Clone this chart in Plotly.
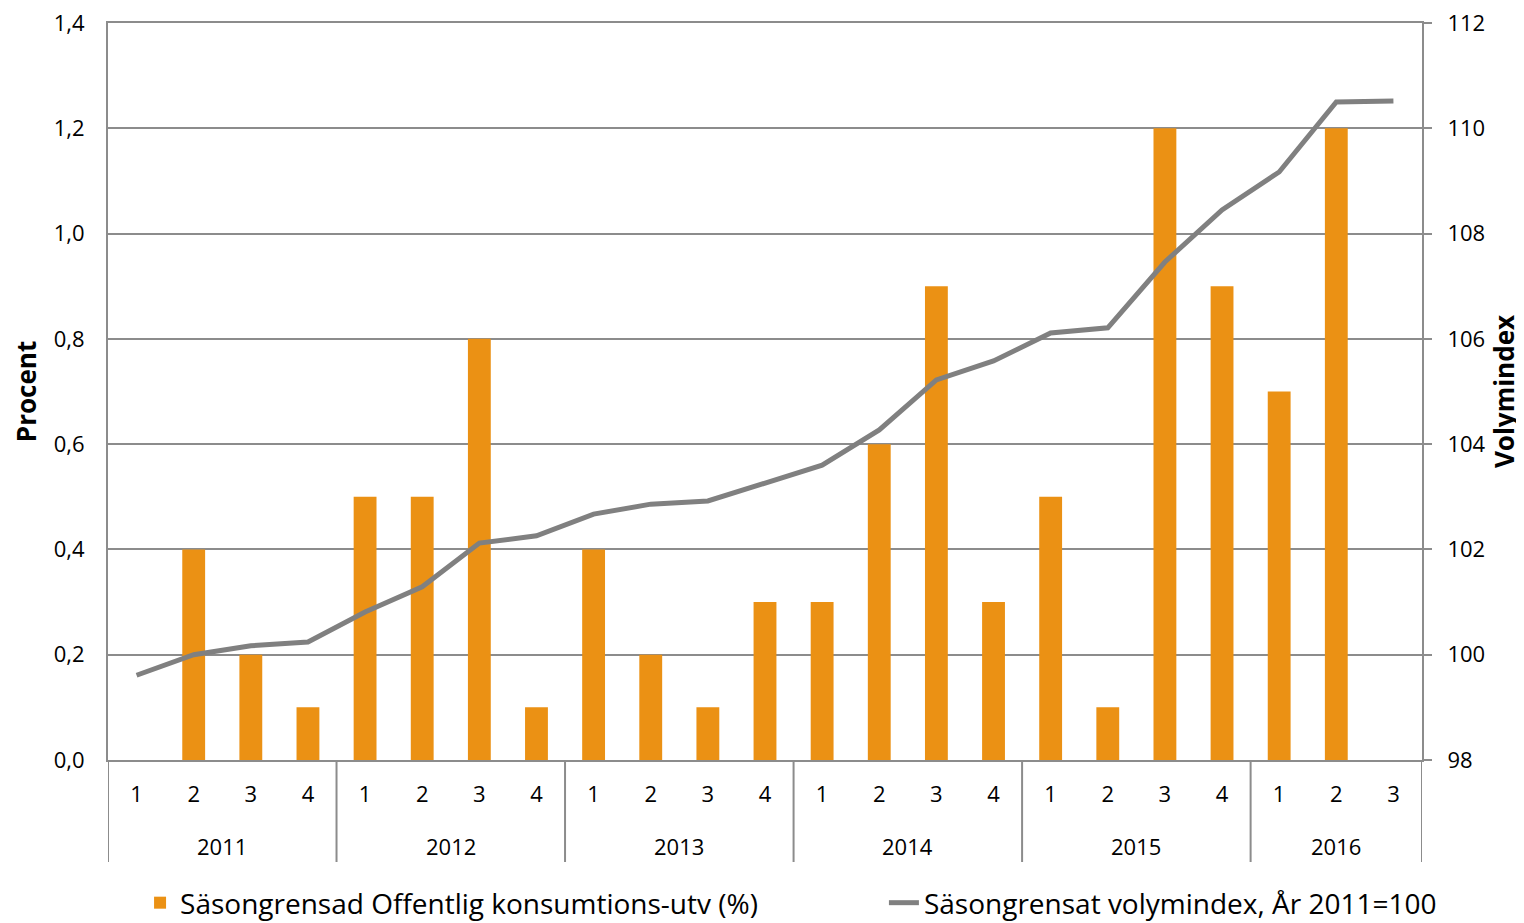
import plotly.graph_objects as go

years = ["2011", "2012", "2013", "2014", "2015", "2016"]
quarters_per_year = [4, 4, 4, 4, 4, 3]
quarters = ["1", "2", "3", "4"] * 5 + ["1", "2", "3"]
bar_values = [0.0, 0.4, 0.2, 0.1,
              0.5, 0.5, 0.8, 0.1,
              0.4, 0.2, 0.1, 0.3,
              0.3, 0.6, 0.9, 0.3,
              0.5, 0.1, 1.2, 0.9,
              0.7, 1.2, None]
index_values = [99.61, 100.0, 100.17, 100.24,
                100.81, 101.29, 102.12, 102.26,
                102.67, 102.86, 102.92, 103.26,
                103.60, 104.27, 105.22, 105.58,
                106.11, 106.21, 107.46, 108.45,
                109.17, 110.50, 110.52]
left_ticks = [0.0, 0.2, 0.4, 0.6, 0.8, 1.0, 1.2, 1.4]
right_ticks = [98, 100, 102, 104, 106, 108, 110, 112]
bar_name = "Säsongrensad Offentlig konsumtions-utv (%)"
line_name = "Säsongrensat volymindex, År 2011=100"

# unique category keys: year-quarter
cats = []
for y, n in zip(years, quarters_per_year):
    for q in range(1, n + 1):
        cats.append(f"{y}-{q}")

FONT = "Open Sans"
GRID = "#8c8c8c"

fig = go.Figure()
fig.add_trace(go.Bar(x=cats, y=bar_values, name=bar_name, legend="legend",
                     marker=dict(color="#EB9114", line=dict(width=0)), width=0.4))
fig.add_trace(go.Scatter(x=cats, y=index_values, name=line_name, yaxis="y2", legend="legend2",
                         mode="lines", line=dict(color="#808080", width=5)))

# year labels and dividers below the axis
start = 0
bounds = [-0.5]
for y, n in zip(years, quarters_per_year):
    center = start + (n - 1) / 2
    fig.add_annotation(x=center, y=-0.1167, xref="x", yref="paper", text=y,
                       showarrow=False, yanchor="middle", font=dict(size=22))
    start += n
    bounds.append(start - 0.5)
for b in bounds:
    fig.add_shape(type="line", x0=b, x1=b, xref="x", y0=0, y1=-0.1384, yref="paper",
                  line=dict(color=GRID, width=2))

fig.update_layout(
    width=1516, height=915,
    margin=dict(l=100, r=102, t=15, b=163, autoexpand=False),
    plot_bgcolor="white", paper_bgcolor="white",
    separators=", ",
    font=dict(family=FONT, size=22, color="black"),
    showlegend=True,
    legend=dict(orientation="h", x=0.0244, xanchor="left", y=-0.194, yanchor="middle",
                font=dict(size=28)),
    legend2=dict(orientation="h", x=0.5905, xanchor="left", y=-0.194, yanchor="middle",
                 font=dict(size=28)),
    xaxis=dict(type="category", showline=True, linecolor=GRID, linewidth=2, mirror=True,
               showgrid=False, ticks="", tickmode="array", tickvals=cats, ticktext=quarters,
               ticklabelstandoff=14, automargin=False, range=[-0.5, len(cats) - 0.5]),
    yaxis=dict(range=[0, 1.4], tickmode="array", tickvals=left_ticks, tickformat=".1f",
               showgrid=True, gridcolor=GRID, ticklabeloverflow="allow",
               gridwidth=2, showline=True, linecolor=GRID, linewidth=2, ticks="",
               zeroline=False, automargin=False, ticklabelstandoff=17,
               title=dict(text="<b>Procent</b>", font=dict(size=26), standoff=18)),
    yaxis2=dict(range=[98, 112], tickmode="array", tickvals=right_ticks, overlaying="y",
                side="right", showgrid=False, ticklabeloverflow="allow",
                showline=True, linecolor=GRID, linewidth=2, ticks="outside", ticklen=8,
                tickcolor=GRID, tickwidth=2, zeroline=False, automargin=False,
                ticklabelstandoff=11,
                title=dict(text="<b>Volymindex</b>", font=dict(size=26), standoff=10)),
)

fig.write_html("out.html")
